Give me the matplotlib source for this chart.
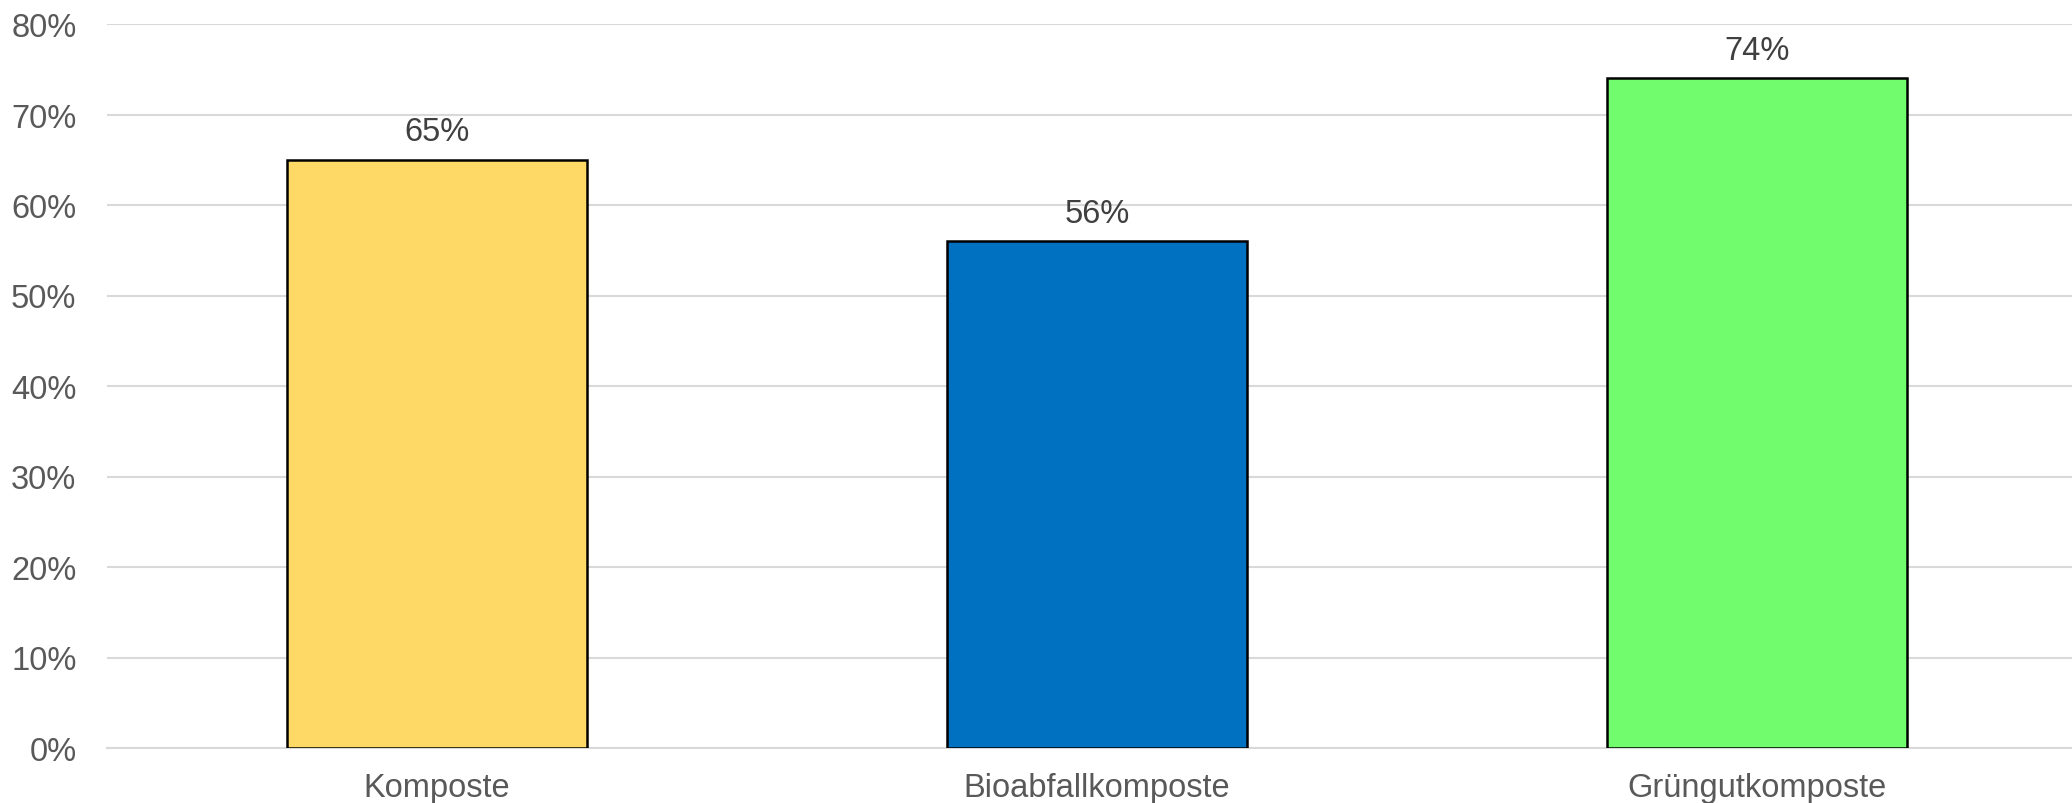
import matplotlib.pyplot as plt
from matplotlib.ticker import PercentFormatter

plt.rcParams['font.family'] = ['Liberation Sans', 'DejaVu Sans']

categories = ['Komposte', 'Bioabfallkomposte', 'Grüngutkomposte']
shares = [65, 56, 74]
bar_colors = ['#FFD966', '#0070C0', '#70FC6C']
y_ticks = [0, 10, 20, 30, 40, 50, 60, 70, 80]

fig = plt.figure(figsize=(20.72, 8.04), dpi=100)
ax = fig.add_axes([107 / 2072, 55 / 804, 1980 / 2072, 724 / 804])

x = range(len(categories))
bars = ax.bar(x, shares, width=0.455, color=bar_colors,
              edgecolor='black', linewidth=1.8, zorder=3)

for b, v in zip(bars, shares):
    ax.annotate(f'{v}%', (b.get_x() + b.get_width() / 2, v),
                xytext=(0, 9), textcoords='offset points',
                ha='center', va='bottom', fontsize=23.5, color='#404040')

ax.set_xlim(-0.5, 2.5)
ax.set_ylim(0, 80)
ax.set_yticks(y_ticks)
ax.yaxis.set_major_formatter(PercentFormatter(decimals=0))
ax.set_xticks(list(x))
ax.set_xticklabels(categories)

ax.grid(axis='y', color='#d9d9d9', linewidth=1.5, zorder=0)
for s in ['top', 'right', 'left']:
    ax.spines[s].set_visible(False)
ax.spines['bottom'].set_color('#d9d9d9')
ax.spines['bottom'].set_linewidth(1.5)

ax.tick_params(axis='y', length=0, pad=22, labelsize=23.5, labelcolor='#595959')
ax.tick_params(axis='x', length=0, pad=17, labelsize=23.5, labelcolor='#595959')

fig.savefig('out.png', dpi=100)
